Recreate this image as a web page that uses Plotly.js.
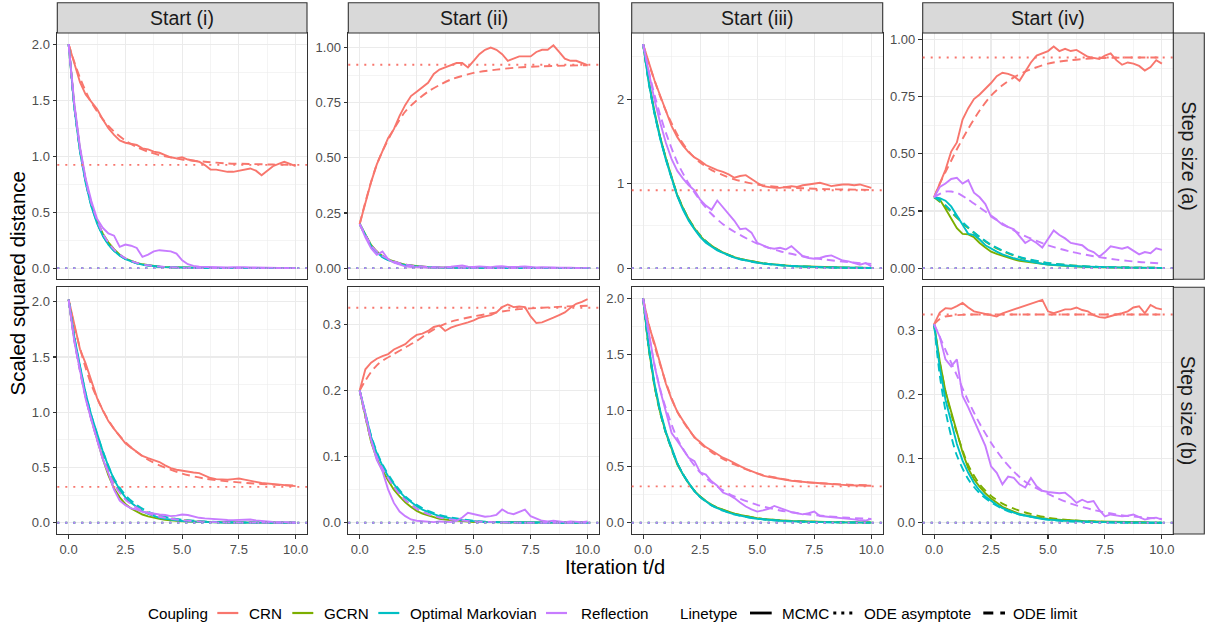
<!DOCTYPE html>
<html><head><meta charset="utf-8">
<script src="https://cdn.plot.ly/plotly-3.0.1.min.js"></script>
<style>html,body{margin:0;padding:0;background:#fff;} #chart{width:1208px;height:624px;}</style>
</head><body><div id="chart"></div>
<script>
// ---------------- categories / labels ----------------
const couplings = ['CRN', 'GCRN', 'Optimal Markovian', 'Reflection'];
const couplingColors = ['#F8766D', '#7CAE00', '#00BFC4', '#C77CFF'];
const startLabels = ['Start (i)', 'Start (ii)', 'Start (iii)', 'Start (iv)'];
const stepLabels = ['Step size (a)', 'Step size (b)'];
const linetypeLabels = ['MCMC', 'ODE asymptote', 'ODE limit'];

// time grids (iteration t/d)
const T_MC = [0,0.25,0.5,0.75,1,1.25,1.5,1.75,2,2.25, 2.5,2.75,3,3.25,3.5,3.75,4,4.25,4.5,4.75, 5,5.25,5.5,5.75,6,6.25,6.5,6.75,7,7.25, 7.5,7.75,8,8.25,8.5,8.75,9,9.25,9.5,9.75, 10];
const T_ODE = [0,0.25,0.5,0.75,1,1.5,2,2.5,3,3.5,4,5,6,7,8,9,10];

// ODE asymptotes [CRN, GCRN, Optimal, Reflection]
const asym_a = [0.922, 0, 0, 0];
const asym_b = [0.325, 0, 0, 0];

// ---------------- Step size (a), Start (i) ----------------
const mcmc_a1_CRN = [2.00,1.82,1.66,1.55,1.49,1.42,1.33,1.25,1.19,1.14, 1.12,1.11,1.10,1.07,1.06,1.04,1.03,1.01,0.99,0.98, 0.99,0.97,0.96,0.95,0.92,0.88,0.88,0.87,0.86,0.86, 0.87,0.88,0.89,0.87,0.83,0.87,0.91,0.93,0.95,0.93, 0.91];
const mcmc_a1_GCRN = [2.00,1.45,1.06,0.78,0.57,0.42,0.31,0.23,0.17,0.12, 0.085,0.062,0.046,0.034,0.025,0.018,0.013,0.010,0.008,0.006, 0.004,0.003,0.003,0.002,0.002,0.002,0.001,0.001,0.001,0.001, 0.001,0.001,0.001,0,0,0,0,0,0,0, 0];
const mcmc_a1_Opt = [2.00,1.43,1.04,0.76,0.55,0.40,0.29,0.21,0.155,0.11, 0.08,0.058,0.042,0.031,0.023,0.017,0.012,0.009,0.007,0.005, 0.004,0.003,0.002,0.002,0.001,0.001,0.001,0.001,0.001,0.001, 0,0,0,0,0,0,0,0,0,0, 0];
const mcmc_a1_Refl = [2.00,1.47,1.08,0.80,0.60,0.44,0.36,0.31,0.29,0.19, 0.21,0.20,0.18,0.10,0.12,0.15,0.16,0.155,0.15,0.13, 0.07,0.035,0.02,0.012,0.01,0.008,0.006,0.005,0.006,0.008, 0.01,0.008,0.006,0.004,0.003,0.003,0.002,0.002,0.001,0.001, 0];
const ode_a1_CRN = [2.0,1.84,1.70,1.58,1.48,1.33,1.22,1.14,1.08,1.04,1.01,0.97,0.95,0.935,0.93,0.925,0.922];
const ode_a1_GCRN = [2.0,1.45,1.06,0.78,0.57,0.30,0.16,0.085,0.045,0.024,0.013,0.004,0.001,0,0,0,0];
const ode_a1_Opt = [2.0,1.44,1.05,0.77,0.56,0.29,0.155,0.082,0.043,0.023,0.012,0.004,0.001,0,0,0,0];
const ode_a1_Refl = [2.0,1.46,1.07,0.79,0.58,0.31,0.165,0.088,0.047,0.025,0.014,0.004,0.001,0,0,0,0];

// ---------------- Step size (a), Start (ii) ----------------
const mcmc_a2_CRN = [0.20,0.30,0.39,0.47,0.53,0.59,0.63,0.69,0.74,0.78, 0.80,0.82,0.84,0.88,0.90,0.91,0.92,0.93,0.93,0.91, 0.94,0.97,0.99,1.00,0.99,0.97,0.94,0.95,0.96,0.96, 0.96,0.98,0.99,0.99,1.01,0.98,0.95,0.94,0.94,0.93, 0.92];
const mcmc_a2_GCRN = [0.20,0.15,0.105,0.075,0.055,0.04,0.029,0.021,0.015,0.011, 0.008,0.006,0.004,0.003,0.002,0.002,0.001,0.001,0.001,0.001, 0,0,0,0,0,0,0,0,0,0, 0,0,0,0,0,0,0,0,0,0, 0];
const mcmc_a2_Opt = [0.20,0.148,0.10,0.07,0.05,0.036,0.026,0.019,0.013,0.009, 0.007,0.005,0.003,0.002,0.002,0.001,0.001,0.001,0,0, 0,0,0,0,0,0,0,0,0,0, 0,0,0,0,0,0,0,0,0,0, 0];
const mcmc_a2_Refl = [0.20,0.14,0.09,0.06,0.075,0.04,0.025,0.015,0.008,0.005, 0.003,0.002,0.002,0.003,0.002,0.004,0.006,0.008,0.012,0.006, 0.005,0.008,0.006,0.004,0.007,0.009,0.005,0.004,0.006,0.008, 0.005,0.003,0.004,0.002,0.003,0.002,0.003,0.002,0.001,0.002, 0.001];
const ode_a2_CRN = [0.2,0.3,0.39,0.47,0.53,0.63,0.71,0.76,0.80,0.83,0.855,0.885,0.90,0.91,0.915,0.918,0.92];
const ode_a2_GCRN = [0.2,0.15,0.105,0.075,0.055,0.03,0.016,0.009,0.005,0.003,0.002,0.001,0,0,0,0,0];
const ode_a2_Opt = [0.2,0.148,0.10,0.07,0.05,0.027,0.014,0.008,0.004,0.002,0.001,0,0,0,0,0,0];
const ode_a2_Refl = [0.2,0.15,0.105,0.075,0.055,0.03,0.016,0.009,0.005,0.003,0.002,0.001,0,0,0,0,0];

// ---------------- Step size (a), Start (iii) ----------------
const mcmc_a3_CRN = [2.65,2.43,2.22,2.04,1.86,1.68,1.55,1.45,1.37,1.31, 1.27,1.22,1.19,1.16,1.14,1.11,1.07,1.09,1.10,1.05, 1.01,0.97,0.96,0.95,0.95,0.96,0.97,0.96,0.98,0.99, 1.00,1.01,0.99,0.97,0.98,0.99,0.99,0.98,0.99,0.97, 0.95];
const mcmc_a3_GCRN = [2.65,2.21,1.85,1.55,1.30,1.07,0.86,0.71,0.58,0.47, 0.38,0.31,0.26,0.22,0.185,0.155,0.13,0.11,0.095,0.08, 0.068,0.058,0.05,0.042,0.036,0.03,0.026,0.022,0.019,0.016, 0.014,0.012,0.01,0.009,0.008,0.007,0.006,0.005,0.004,0.003, 0.003];
const mcmc_a3_Opt = [2.65,2.19,1.83,1.53,1.28,1.05,0.85,0.69,0.56,0.46, 0.37,0.30,0.25,0.21,0.18,0.15,0.125,0.105,0.09,0.076, 0.065,0.055,0.047,0.04,0.034,0.029,0.025,0.021,0.018,0.015, 0.013,0.011,0.009,0.008,0.007,0.006,0.005,0.004,0.003,0.003, 0.002];
const mcmc_a3_Refl = [2.65,2.32,1.99,1.72,1.48,1.29,1.15,1.06,0.98,0.92, 0.81,0.74,0.69,0.80,0.72,0.63,0.56,0.46,0.47,0.42, 0.30,0.27,0.24,0.23,0.24,0.22,0.26,0.20,0.14,0.12, 0.11,0.12,0.14,0.15,0.12,0.09,0.08,0.06,0.04,0.06, 0.02];
const ode_a3_CRN = [2.65,2.42,2.22,2.03,1.86,1.58,1.38,1.25,1.16,1.10,1.05,0.99,0.96,0.945,0.935,0.93,0.925];
const ode_a3_GCRN = [2.65,2.2,1.84,1.55,1.30,0.87,0.58,0.39,0.265,0.185,0.13,0.068,0.036,0.019,0.01,0.005,0.003];
const ode_a3_Opt = [2.65,2.19,1.83,1.54,1.29,0.86,0.57,0.38,0.26,0.18,0.125,0.065,0.034,0.018,0.009,0.005,0.002];
const ode_a3_Refl = [2.65,2.33,2.05,1.81,1.6,1.25,1.0,0.8,0.64,0.52,0.43,0.29,0.2,0.14,0.1,0.07,0.05];

// ---------------- Step size (a), Start (iv) ----------------
const mcmc_a4_CRN = [0.31,0.37,0.43,0.51,0.55,0.65,0.70,0.74,0.76,0.785, 0.81,0.84,0.855,0.85,0.84,0.82,0.86,0.90,0.93,0.94, 0.95,0.97,0.95,0.96,0.95,0.955,0.94,0.925,0.92,0.915, 0.93,0.94,0.91,0.89,0.90,0.895,0.885,0.865,0.88,0.91, 0.895];
const mcmc_a4_GCRN = [0.31,0.30,0.26,0.215,0.175,0.15,0.148,0.135,0.11,0.09, 0.072,0.062,0.053,0.045,0.038,0.032,0.028,0.024,0.02,0.017, 0.015,0.013,0.011,0.009,0.008,0.007,0.006,0.005,0.004,0.004, 0.003,0.003,0.002,0.002,0.002,0.002,0.001,0.001,0.001,0.001, 0.001];
const mcmc_a4_Opt = [0.31,0.306,0.295,0.27,0.23,0.19,0.15,0.145,0.125,0.10, 0.085,0.072,0.06,0.05,0.043,0.037,0.032,0.027,0.023,0.019, 0.016,0.014,0.012,0.01,0.009,0.008,0.007,0.006,0.005,0.004, 0.004,0.003,0.003,0.002,0.002,0.002,0.001,0.001,0.001,0.001, 0.001];
const mcmc_a4_Refl = [0.31,0.355,0.37,0.39,0.395,0.37,0.385,0.33,0.31,0.28, 0.225,0.21,0.19,0.18,0.17,0.14,0.11,0.125,0.11,0.09, 0.13,0.165,0.145,0.13,0.11,0.105,0.10,0.08,0.07,0.05, 0.07,0.095,0.09,0.085,0.092,0.075,0.06,0.07,0.065,0.087, 0.08];
const ode_a4_CRN = [0.31,0.37,0.42,0.47,0.52,0.61,0.69,0.755,0.80,0.835,0.86,0.895,0.91,0.918,0.921,0.922,0.922];
const ode_a4_GCRN = [0.31,0.29,0.27,0.245,0.22,0.175,0.135,0.10,0.075,0.055,0.04,0.022,0.012,0.006,0.003,0.002,0.001];
const ode_a4_Opt = [0.31,0.295,0.275,0.25,0.225,0.178,0.137,0.102,0.077,0.057,0.042,0.023,0.012,0.006,0.003,0.002,0.001];
const ode_a4_Refl = [0.31,0.325,0.335,0.335,0.33,0.30,0.265,0.23,0.195,0.165,0.14,0.10,0.072,0.052,0.037,0.027,0.02];

// ---------------- Step size (b), Start (i) ----------------
const mcmc_b1_CRN = [2.02,1.79,1.57,1.44,1.28,1.13,1.02,0.92,0.85,0.78, 0.72,0.68,0.645,0.605,0.585,0.565,0.55,0.52,0.495,0.48, 0.47,0.465,0.455,0.45,0.43,0.405,0.395,0.39,0.39,0.395, 0.40,0.39,0.377,0.37,0.36,0.355,0.35,0.345,0.34,0.335, 0.332];
const mcmc_b1_GCRN = [2.02,1.66,1.40,1.14,0.94,0.76,0.58,0.43,0.31,0.23, 0.17,0.13,0.10,0.075,0.058,0.045,0.035,0.027,0.021,0.017, 0.013,0.011,0.009,0.007,0.006,0.005,0.004,0.003,0.003,0.002, 0.002,0.002,0.001,0.001,0.001,0.001,0.001,0,0,0, 0];
const mcmc_b1_Opt = [2.02,1.68,1.42,1.17,0.97,0.80,0.65,0.51,0.39,0.30, 0.23,0.18,0.14,0.105,0.08,0.06,0.045,0.035,0.027,0.02, 0.016,0.013,0.01,0.008,0.006,0.005,0.004,0.003,0.003,0.002, 0.002,0.002,0.001,0.001,0.001,0.001,0.001,0,0,0, 0];
const mcmc_b1_Refl = [2.02,1.64,1.38,1.12,0.93,0.75,0.58,0.45,0.30,0.20, 0.16,0.13,0.12,0.10,0.09,0.08,0.075,0.07,0.06,0.065, 0.075,0.07,0.055,0.045,0.04,0.035,0.03,0.03,0.025,0.024, 0.028,0.03,0.03,0.022,0.015,0.012,0.008,0.006,0.004,0.003, 0.002];
const ode_b1_CRN = [2.02,1.78,1.58,1.40,1.25,1.02,0.85,0.73,0.64,0.57,0.52,0.445,0.40,0.375,0.358,0.345,0.336];
const ode_b1_GCRN = [2.02,1.66,1.38,1.14,0.94,0.60,0.36,0.22,0.14,0.09,0.06,0.025,0.01,0.004,0.002,0.001,0];
const ode_b1_Opt = [2.02,1.68,1.41,1.17,0.97,0.65,0.40,0.25,0.16,0.10,0.065,0.028,0.012,0.005,0.002,0.001,0];
const ode_b1_Refl = [2.02,1.65,1.37,1.13,0.93,0.59,0.35,0.21,0.135,0.085,0.055,0.023,0.009,0.004,0.002,0.001,0];

// ---------------- Step size (b), Start (ii) ----------------
const mcmc_b2_CRN = [0.200,0.232,0.242,0.248,0.252,0.255,0.262,0.266,0.270,0.278, 0.284,0.286,0.290,0.296,0.298,0.290,0.295,0.298,0.300,0.303, 0.306,0.310,0.312,0.314,0.318,0.326,0.330,0.326,0.327,0.326, 0.312,0.302,0.303,0.306,0.310,0.314,0.318,0.325,0.331,0.334, 0.338];
const mcmc_b2_GCRN = [0.200,0.160,0.122,0.097,0.079,0.064,0.050,0.040,0.031,0.024, 0.018,0.014,0.011,0.008,0.006,0.005,0.004,0.003,0.002,0.002, 0.001,0.001,0.001,0.001,0,0,0,0,0,0, 0,0,0,0,0,0,0,0,0,0, 0];
const mcmc_b2_Opt = [0.200,0.165,0.130,0.105,0.086,0.070,0.058,0.047,0.038,0.031, 0.025,0.020,0.016,0.013,0.010,0.008,0.006,0.005,0.004,0.003, 0.002,0.002,0.001,0.001,0.001,0.001,0,0,0,0, 0,0,0,0,0,0,0,0,0,0, 0];
const mcmc_b2_Refl = [0.200,0.165,0.125,0.095,0.078,0.050,0.030,0.017,0.010,0.005, 0.003,0.002,0.001,0.001,0.002,0.001,0.001,0.003,0.008,0.015, 0.013,0.012,0.009,0.010,0.012,0.020,0.015,0.013,0.016,0.020, 0.010,0.006,0.003,0.002,0.003,0.002,0.001,0.002,0.001,0.001, 0.002];
const ode_b2_CRN = [0.2,0.215,0.228,0.238,0.245,0.255,0.265,0.275,0.287,0.297,0.304,0.312,0.318,0.323,0.325,0.327,0.328];
const ode_b2_GCRN = [0.2,0.16,0.125,0.1,0.082,0.054,0.034,0.021,0.013,0.008,0.005,0.002,0.001,0,0,0,0];
const ode_b2_Opt = [0.2,0.165,0.132,0.107,0.088,0.06,0.04,0.027,0.018,0.012,0.008,0.003,0.001,0,0,0,0];
const ode_b2_Refl = [0.2,0.16,0.125,0.1,0.082,0.054,0.034,0.021,0.013,0.008,0.005,0.002,0.001,0,0,0,0];

// ---------------- Step size (b), Start (iii) ----------------
const mcmc_b3_CRN = [2.00,1.76,1.60,1.42,1.24,1.10,0.99,0.91,0.84,0.76, 0.72,0.675,0.645,0.61,0.58,0.56,0.53,0.505,0.48,0.46, 0.44,0.42,0.41,0.40,0.39,0.38,0.375,0.37,0.362,0.36, 0.357,0.352,0.35,0.345,0.34,0.338,0.335,0.333,0.334,0.333, 0.33];
const mcmc_b3_GCRN = [2.00,1.55,1.22,0.98,0.80,0.65,0.52,0.43,0.35,0.285, 0.235,0.195,0.16,0.135,0.115,0.097,0.082,0.07,0.058,0.048, 0.04,0.034,0.029,0.025,0.022,0.019,0.016,0.014,0.012,0.01, 0.009,0.008,0.007,0.006,0.005,0.004,0.004,0.003,0.003,0.002, 0.002];
const mcmc_b3_Opt = [2.00,1.57,1.24,1.00,0.81,0.66,0.53,0.43,0.35,0.28, 0.23,0.19,0.155,0.13,0.108,0.09,0.075,0.062,0.052,0.043, 0.036,0.03,0.025,0.021,0.018,0.015,0.013,0.011,0.009,0.008, 0.007,0.006,0.005,0.004,0.004,0.003,0.003,0.002,0.002,0.002, 0.001];
const mcmc_b3_Refl = [2.00,1.68,1.40,1.18,0.98,0.80,0.73,0.66,0.58,0.55, 0.45,0.43,0.37,0.33,0.27,0.25,0.22,0.18,0.145,0.12, 0.10,0.11,0.125,0.15,0.13,0.11,0.095,0.085,0.075,0.085, 0.10,0.06,0.055,0.053,0.05,0.045,0.038,0.03,0.022,0.02, 0.035];
const ode_b3_CRN = [2.0,1.77,1.58,1.41,1.25,0.99,0.83,0.71,0.63,0.57,0.52,0.44,0.395,0.365,0.35,0.34,0.333];
const ode_b3_GCRN = [2.0,1.55,1.22,0.98,0.80,0.53,0.35,0.235,0.16,0.115,0.082,0.04,0.022,0.012,0.007,0.004,0.002];
const ode_b3_Opt = [2.0,1.56,1.23,0.99,0.80,0.53,0.35,0.23,0.155,0.108,0.075,0.036,0.018,0.009,0.005,0.003,0.001];
const ode_b3_Refl = [2.0,1.68,1.41,1.19,1.02,0.75,0.58,0.45,0.36,0.29,0.235,0.16,0.11,0.08,0.06,0.045,0.035];

// ---------------- Step size (b), Start (iv) ----------------
const mcmc_b4_CRN = [0.310,0.328,0.335,0.334,0.338,0.343,0.336,0.330,0.328,0.326, 0.325,0.322,0.327,0.330,0.333,0.336,0.338,0.342,0.344,0.348, 0.330,0.327,0.330,0.333,0.333,0.336,0.332,0.330,0.324,0.321, 0.320,0.323,0.325,0.327,0.330,0.336,0.338,0.327,0.340,0.335, 0.333];
const mcmc_b4_GCRN = [0.310,0.252,0.205,0.172,0.140,0.110,0.085,0.068,0.056,0.046, 0.038,0.031,0.025,0.021,0.017,0.014,0.012,0.010,0.009,0.007, 0.006,0.005,0.005,0.004,0.004,0.003,0.003,0.002,0.002,0.002, 0.002,0.001,0.001,0.001,0.001,0.001,0.001,0.001,0,0, 0];
const mcmc_b4_Opt = [0.310,0.242,0.192,0.155,0.123,0.097,0.078,0.062,0.050,0.041, 0.034,0.028,0.023,0.019,0.016,0.013,0.011,0.009,0.008,0.006, 0.005,0.004,0.004,0.003,0.003,0.002,0.002,0.002,0.001,0.001, 0.001,0.001,0.001,0.001,0,0,0,0,0,0, 0];
const mcmc_b4_Refl = [0.310,0.290,0.255,0.244,0.255,0.198,0.180,0.160,0.140,0.120, 0.088,0.078,0.060,0.072,0.070,0.060,0.055,0.070,0.057,0.050, 0.048,0.047,0.046,0.047,0.040,0.031,0.036,0.032,0.034,0.020, 0.010,0.013,0.012,0.010,0.011,0.013,0.009,0.005,0.007,0.008, 0.005];
const ode_b4_CRN = [0.31,0.318,0.322,0.323,0.324,0.325,0.325,0.325,0.325,0.325,0.325,0.325,0.325,0.325,0.325,0.325,0.325];
const ode_b4_GCRN = [0.31,0.25,0.205,0.17,0.14,0.09,0.06,0.042,0.03,0.022,0.016,0.008,0.004,0.002,0.001,0,0];
const ode_b4_Opt = [0.31,0.23,0.175,0.135,0.105,0.068,0.046,0.032,0.022,0.015,0.011,0.005,0.002,0.001,0,0,0];
const ode_b4_Refl = [0.31,0.29,0.27,0.25,0.23,0.19,0.155,0.125,0.1,0.08,0.064,0.045,0.03,0.02,0.013,0.009,0.006];

// ---------------- tables built from the arrays above ----------------
const mcmcByPanel = [
  [mcmc_a1_CRN, mcmc_a1_GCRN, mcmc_a1_Opt, mcmc_a1_Refl],
  [mcmc_a2_CRN, mcmc_a2_GCRN, mcmc_a2_Opt, mcmc_a2_Refl],
  [mcmc_a3_CRN, mcmc_a3_GCRN, mcmc_a3_Opt, mcmc_a3_Refl],
  [mcmc_a4_CRN, mcmc_a4_GCRN, mcmc_a4_Opt, mcmc_a4_Refl],
  [mcmc_b1_CRN, mcmc_b1_GCRN, mcmc_b1_Opt, mcmc_b1_Refl],
  [mcmc_b2_CRN, mcmc_b2_GCRN, mcmc_b2_Opt, mcmc_b2_Refl],
  [mcmc_b3_CRN, mcmc_b3_GCRN, mcmc_b3_Opt, mcmc_b3_Refl],
  [mcmc_b4_CRN, mcmc_b4_GCRN, mcmc_b4_Opt, mcmc_b4_Refl]
];
const odeByPanel = [
  [ode_a1_CRN, ode_a1_GCRN, ode_a1_Opt, ode_a1_Refl],
  [ode_a2_CRN, ode_a2_GCRN, ode_a2_Opt, ode_a2_Refl],
  [ode_a3_CRN, ode_a3_GCRN, ode_a3_Opt, ode_a3_Refl],
  [ode_a4_CRN, ode_a4_GCRN, ode_a4_Opt, ode_a4_Refl],
  [ode_b1_CRN, ode_b1_GCRN, ode_b1_Opt, ode_b1_Refl],
  [ode_b2_CRN, ode_b2_GCRN, ode_b2_Opt, ode_b2_Refl],
  [ode_b3_CRN, ode_b3_GCRN, ode_b3_Opt, ode_b3_Refl],
  [ode_b4_CRN, ode_b4_GCRN, ode_b4_Opt, ode_b4_Refl]
];
const asymByRow = [asym_a, asym_b];

// ---------------- layout (styling / geometry) ----------------
const W = 1208, H = 624;
const FONT = '"Liberation Sans", Arial, Helvetica, sans-serif';
const colX = [[57.3, 307.0], [348.3, 599.0], [631.7, 882.7], [922.7, 1173.3]];
const rowY = [[33, 279.3], [287.3, 534]];
const stripTop = 2.7, stripRight = 1204.3;
const yRanges = [[-0.1, 2.1], [-0.0508, 1.066], [-0.1325, 2.7825], [-0.049, 1.029],
                 [-0.1015, 2.131], [-0.017, 0.356], [-0.1, 2.1], [-0.0175, 0.3675]];
const yDticks = [0.5, 0.25, 1, 0.25, 0.5, 0.1, 0.5, 0.1];
const yFormats = ['.1f', '.2f', 'd', '.2f', '.1f', '.1f', '.1f', '.1f'];
const LW = 1.9;
const px = v => v / W, py = v => 1 - v / H;

const traces = [];
const shapes = [];
const annotations = [];
const layout = {
  width: W, height: H, margin: {l: 0, r: 0, t: 0, b: 0},
  paper_bgcolor: '#FFFFFF', plot_bgcolor: '#FFFFFF',
  showlegend: false, font: {family: FONT, color: '#000000'}
};

for (let p = 0; p < 8; p++) {
  const r = Math.floor(p / 4), c = p % 4;
  const n = p === 0 ? '' : String(p + 1);
  const xa = 'x' + n, ya = 'y' + n;
  const common = {
    showgrid: true, gridcolor: '#EBEBEB', gridwidth: 1.1,
    zeroline: false, showline: true, mirror: true, linecolor: '#333333', linewidth: 1.1,
    ticklen: 3.7, tickwidth: 1.1, tickcolor: '#333333',
    tickfont: {family: FONT, size: 13, color: '#4D4D4D'}, fixedrange: true
  };
  layout['xaxis' + n] = Object.assign({}, common, {
    domain: [px(colX[c][0]), px(colX[c][1])], anchor: ya,
    range: [-0.5, 10.5], tickmode: 'linear', tick0: 0, dtick: 2.5, tickformat: '.1f',
    showticklabels: r === 1, ticks: r === 1 ? 'outside' : '',
    minor: {tick0: 0, dtick: 1.25, showgrid: true, gridcolor: '#EBEBEB', gridwidth: 0.55, ticks: ''}
  });
  layout['yaxis' + n] = Object.assign({}, common, {
    domain: [py(rowY[r][1]), py(rowY[r][0])], anchor: xa,
    range: yRanges[p], tickmode: 'linear', tick0: 0, dtick: yDticks[p], tickformat: yFormats[p],
    showticklabels: true, ticks: 'outside',
    minor: {tick0: 0, dtick: yDticks[p] / 2, showgrid: true, gridcolor: '#EBEBEB', gridwidth: 0.55, ticks: ''}
  });

  for (let k = 0; k < 4; k++) {
    traces.push({
      type: 'scatter', mode: 'lines', x: T_MC, y: mcmcByPanel[p][k],
      xaxis: xa, yaxis: ya, name: couplings[k] + ' MCMC', hoverinfo: 'skip',
      line: {color: couplingColors[k], width: LW}
    });
    traces.push({
      type: 'scatter', mode: 'lines', x: T_ODE, y: odeByPanel[p][k],
      xaxis: xa, yaxis: ya, name: couplings[k] + ' ODE limit', hoverinfo: 'skip',
      line: {color: couplingColors[k], width: LW, dash: '8px,5px', shape: 'spline', smoothing: 0.8}
    });
    shapes.push({
      type: 'line', xref: xa + ' domain', yref: ya, x0: 0, x1: 1,
      y0: asymByRow[r][k], y1: asymByRow[r][k], layer: 'above',
      line: {color: couplingColors[k], width: LW, dash: '2px,6px'}
    });
  }
}

// facet strips (top)
for (let c = 0; c < 4; c++) {
  shapes.push({type: 'rect', xref: 'paper', yref: 'paper',
    x0: px(colX[c][0]), x1: px(colX[c][1]), y0: py(rowY[0][0]), y1: py(stripTop),
    fillcolor: '#D9D9D9', line: {color: '#333333', width: 1.1}});
  annotations.push({xref: 'paper', yref: 'paper', x: px((colX[c][0] + colX[c][1]) / 2),
    y: py((stripTop + rowY[0][0]) / 2), text: startLabels[c], showarrow: false,
    xanchor: 'center', yanchor: 'middle', font: {family: FONT, size: 19.5, color: '#1A1A1A'}});
}
// facet strips (right)
for (let r = 0; r < 2; r++) {
  shapes.push({type: 'rect', xref: 'paper', yref: 'paper',
    x0: px(colX[3][1]), x1: px(stripRight), y0: py(rowY[r][1]), y1: py(rowY[r][0]),
    fillcolor: '#D9D9D9', line: {color: '#333333', width: 1.1}});
  annotations.push({xref: 'paper', yref: 'paper', x: px((colX[3][1] + stripRight) / 2),
    y: py((rowY[r][0] + rowY[r][1]) / 2), text: stepLabels[r], showarrow: false, textangle: 90,
    xanchor: 'center', yanchor: 'middle', font: {family: FONT, size: 19.5, color: '#1A1A1A'}});
}
// axis titles
annotations.push({xref: 'paper', yref: 'paper', x: px((colX[0][0] + colX[3][1]) / 2), y: py(555),
  text: 'Iteration t/d', showarrow: false, xanchor: 'center', yanchor: 'top', borderpad: 0,
  font: {family: FONT, size: 20, color: '#000000'}});
annotations.push({xref: 'paper', yref: 'paper', x: px(17), y: py((rowY[0][0] + rowY[1][1]) / 2),
  text: 'Scaled squared distance', showarrow: false, textangle: -90, xanchor: 'center', yanchor: 'middle',
  font: {family: FONT, size: 20.5, color: '#000000'}});

// legend (ggplot-style, bottom)
const LEG_Y = 613, LEG_FS = 15.2;
const legendTitles = [['Coupling', 146.7], ['Linetype', 679]];
const couplingKeyX = [[217.3, 238.3, 248.3], [292.3, 313.3, 322.7], [378.3, 399.3, 409.3], [546, 567, 580]];
const linetypeKeyX = [[750, 771.7, 780.7], [833.3, 855, 863.3], [983.3, 1005, 1011.7]];
const linetypeDash = ['solid', '3px,5px', '10px,7px'];
const legText = (t, x) => annotations.push({xref: 'paper', yref: 'paper', x: px(x - 1), y: py(LEG_Y),
  text: t, showarrow: false, xanchor: 'left', yanchor: 'middle', font: {family: FONT, size: LEG_FS, color: '#000000'}});
legendTitles.forEach(([t, x]) => legText(t, x));
couplings.forEach((name, k) => {
  const [a, b, tx] = couplingKeyX[k];
  shapes.push({type: 'line', xref: 'paper', yref: 'paper', x0: px(a), x1: px(b), y0: py(LEG_Y), y1: py(LEG_Y),
    line: {color: couplingColors[k], width: 2.2}});
  legText(name, tx);
});
linetypeLabels.forEach((name, k) => {
  const [a, b, tx] = linetypeKeyX[k];
  shapes.push({type: 'line', xref: 'paper', yref: 'paper', x0: px(a), x1: px(b), y0: py(LEG_Y), y1: py(LEG_Y),
    line: {color: '#000000', width: 2.8, dash: linetypeDash[k]}});
  legText(name, tx);
});

layout.shapes = shapes;
layout.annotations = annotations;

Plotly.newPlot('chart', traces, layout, {displayModeBar: false, staticPlot: true});
</script>
</body></html>
